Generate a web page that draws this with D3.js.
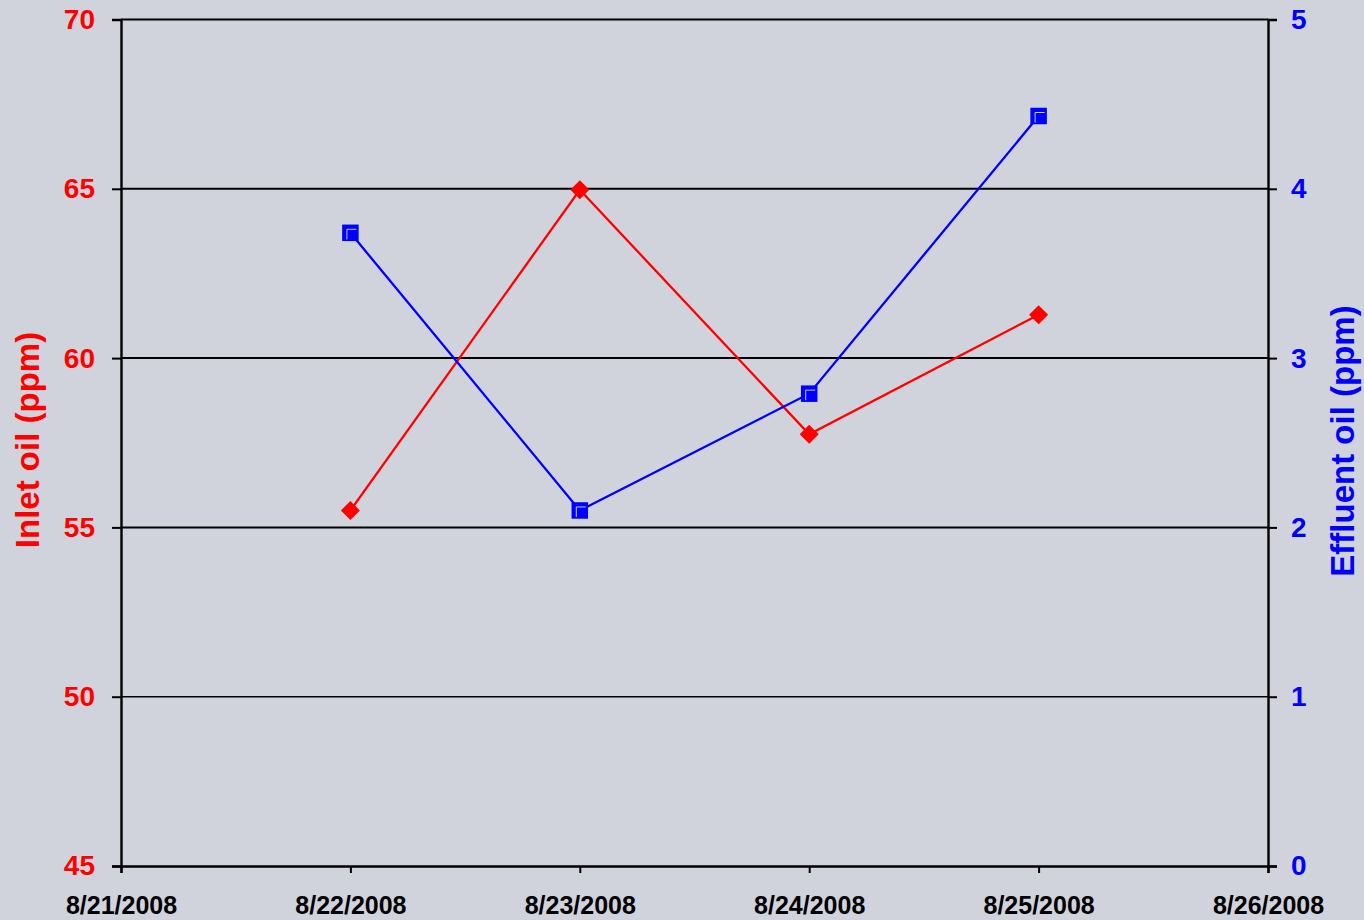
<!DOCTYPE html>
<html>
<head>
<meta charset="utf-8">
<script src="https://cdn.jsdelivr.net/npm/d3@7"></script>
<style>
  html, body { margin: 0; padding: 0; background: #D0D3DB; }
  svg { display: block; font-family: "Liberation Sans", Arial, sans-serif; font-weight: bold; }
</style>
</head>
<body>
<svg id="chart" width="1364" height="920"></svg>
<script>
const dates = ["2008-08-22", "2008-08-23", "2008-08-24", "2008-08-25"];
const inletOil = [55.5, 64.97, 57.75, 61.28];
const effluentOil = [3.74, 2.10, 2.79, 4.43];
const xTickLabels = ["8/21/2008", "8/22/2008", "8/23/2008", "8/24/2008", "8/25/2008", "8/26/2008"];
const leftTicks = [45, 50, 55, 60, 65, 70];
const rightTicks = [0, 1, 2, 3, 4, 5];
const leftTitle = "Inlet oil (ppm)";
const rightTitle = "Effluent oil (ppm)";

const parse = d3.timeParse("%Y-%m-%d");
const xTickDates = d3.timeDay.range(parse("2008-08-21"), parse("2008-08-27"));

const svg = d3.select("#chart");
const L = 121, R = 1268, T = 19.5, B = 866;

const x = d3.scaleTime().domain([parse("2008-08-21"), parse("2008-08-26")]).range([L, R]);
const yL = d3.scaleLinear().domain([45, 70]).range([B, T]);
const yR = d3.scaleLinear().domain([0, 5]).range([B, T]);

// gridlines
svg.append("g").selectAll("line").data(leftTicks.filter(v => v > 45)).join("line")
  .attr("x1", L).attr("x2", R)
  .attr("y1", d => yL(d)).attr("y2", d => yL(d))
  .attr("stroke", "#000").attr("stroke-width", d => d === 50 ? 1.5 : 2);

// left axis
const gl = svg.append("g").attr("transform", `translate(${L},0)`)
  .call(d3.axisLeft(yL).tickValues(leftTicks).tickSize(9).tickPadding(17).tickFormat(d3.format("d")));
gl.select(".domain").attr("stroke-width", 2.4);
gl.selectAll(".tick line").attr("stroke-width", 2);
gl.selectAll(".tick text").attr("fill", "#FF0000").style("font-size", "28px").style("font-weight", "bold");

// right axis
const gr = svg.append("g").attr("transform", `translate(${R},0)`)
  .call(d3.axisRight(yR).tickValues(rightTicks).tickSize(9).tickPadding(14).tickFormat(d3.format("d")));
gr.select(".domain").attr("stroke-width", 2.4);
gr.selectAll(".tick line").attr("stroke-width", 2);
gr.selectAll(".tick text").attr("fill", "#0000FF").style("font-size", "28px").style("font-weight", "bold");

// bottom axis
const gb = svg.append("g").attr("transform", `translate(0,${B})`)
  .call(d3.axisBottom(x).tickValues(xTickDates).tickSize(7).tickPadding(23)
    .tickFormat((d, i) => xTickLabels[i]));
gb.select(".domain").attr("stroke-width", 2.4);
gb.selectAll(".tick line").attr("stroke-width", 2);
gb.selectAll(".tick text").attr("fill", "#000").style("font-size", "25px").style("font-weight", "bold");
svg.selectAll(".domain").attr("stroke", "#000");
svg.selectAll(".tick line").attr("stroke", "#000");

// axis titles
svg.append("text").attr("transform", `translate(39,440) rotate(-90)`)
  .attr("text-anchor", "middle").attr("fill", "#FF0000").style("font-size", "33px")
  .text(leftTitle);
svg.append("text").attr("transform", `translate(1354,441) rotate(-90)`)
  .attr("text-anchor", "middle").attr("fill", "#0000FF").style("font-size", "33px")
  .text(rightTitle);

const inletData = dates.map((d, i) => ({ x: parse(d), y: inletOil[i] }));
const effData = dates.map((d, i) => ({ x: parse(d), y: effluentOil[i] }));

// inlet line
svg.append("path").datum(inletData)
  .attr("fill", "none").attr("stroke", "#FF0000").attr("stroke-width", 2.3)
  .attr("d", d3.line().x(d => x(d.x)).y(d => yL(d.y)));
// effluent line
svg.append("path").datum(effData)
  .attr("fill", "none").attr("stroke", "#0000FF").attr("stroke-width", 2.3)
  .attr("d", d3.line().x(d => x(d.x)).y(d => yR(d.y)));

// inlet markers: diamonds
svg.append("g").selectAll("path").data(inletData).join("path")
  .attr("transform", d => `translate(${x(d.x)},${yL(d.y)})`)
  .attr("d", "M0,-9.5L9.5,0L0,9.5L-9.5,0Z")
  .attr("fill", "#FF0000");

// effluent markers: squares
const sq = svg.append("g").selectAll("g").data(effData).join("g")
  .attr("transform", d => `translate(${x(d.x)},${yR(d.y)})`);
sq.append("rect").attr("x", -7.5).attr("y", -7.5).attr("width", 15).attr("height", 15)
  .attr("fill", "#0000FF").attr("stroke", "#0000FF").attr("stroke-width", 1.5);
sq.append("path").attr("d", "M-3.5,6.5V-3.5H6")
  .attr("fill", "none").attr("stroke", "#C8C8FF").attr("stroke-width", 1);
</script>
</body>
</html>
